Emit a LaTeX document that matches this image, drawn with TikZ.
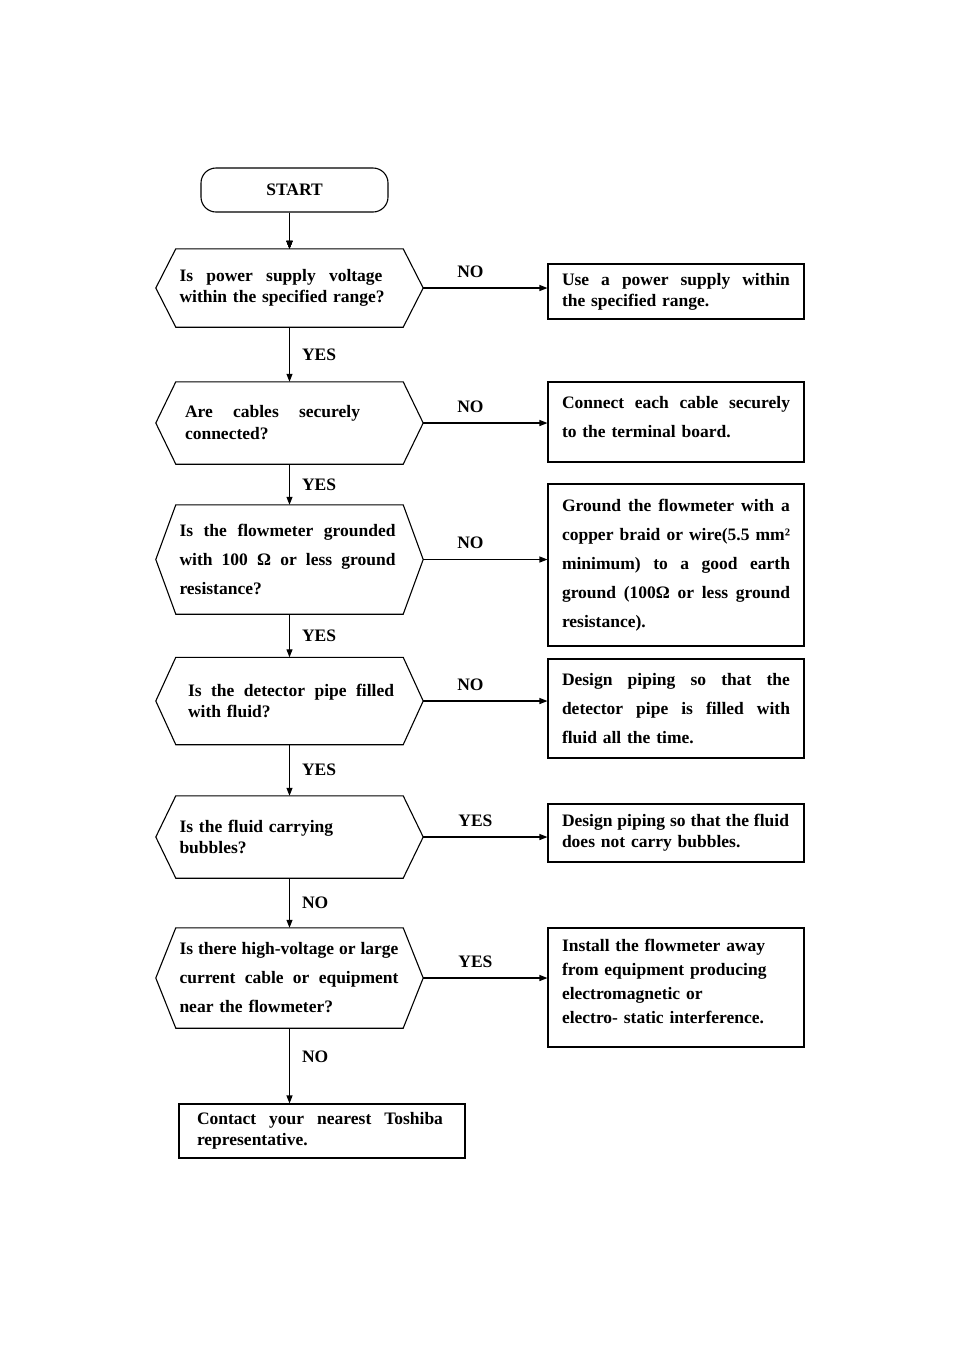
\documentclass[tikz,border=0pt]{standalone}
\usepackage{fontspec}
\setmainfont{Liberation Serif}
\usetikzlibrary{arrows.meta,positioning,calc}

% one stretched line of justified text
\newcommand\jl[2]{\makebox[#1pt][s]{\spaceskip=.25em plus 1fil\xspaceskip=.25em plus 1fil\relax #2}}
% six-sided outline round a decision node
\newcommand\hexout[1]{\draw[line width=1.1pt] (#1.north west) -- ([xshift=-20pt]#1.west) coordinate (#1l)
  -- (#1.south west) -- (#1.south east) -- ([xshift=20pt]#1.east) coordinate (#1r) -- (#1.north east) -- cycle;}

\begin{document}
\begin{tikzpicture}[x=1pt,y=-1pt,
  every node/.style={font=\bfseries\fontsize{17.5}{21}\selectfont},
  wide/.style={font=\bfseries\fontsize{17.5}{29}\selectfont},
  mid/.style={font=\bfseries\fontsize{17.5}{24}\selectfont},
  dec/.style={align=left,text width=220pt,inner xsep=3.5pt,inner ysep=0pt,minimum width=227pt},
  res/.style={draw,line width=1.1pt,align=left,text width=228pt,inner xsep=14pt,inner ysep=0pt,minimum width=256pt},
  lbl/.style={inner sep=2pt},
  ar/.style={-{Triangle[length=8pt,width=6pt]},line width=1.1pt}]
\useasboundingbox (0,0) rectangle (954,1350);
\node[draw,line width=1.1pt,rounded corners=15pt,minimum width=187pt,minimum height=44pt] (start) at (294.5,190) {START};
\node[res,minimum height=55pt] (b1) at (676,291.5) {\jl{228}{Use a power supply within}\\the specified range.};
\node[res,wide,minimum height=80pt] (b2) at (676,422) {\jl{228}{Connect each cable securely}\\to the terminal board.\\[-19pt]\mbox{}};
\node[res,wide,minimum height=162pt] (b3) at (676,565) {\jl{228}{Ground the flowmeter with a}\\\jl{228}{copper braid or wire(5.5 mm²}\\\jl{228}{minimum) to a good earth}\\\jl{228}{ground (100Ω or less ground}\\resistance).};
\node[res,wide,minimum height=99pt] (b4) at (676,708.5) {\jl{228}{Design piping so that the}\\\jl{228}{detector pipe is filled with}\\fluid all the time.};
\node[res,minimum height=58pt] (b5) at (676,833) {\jl{227}{Design piping so that the fluid}\\does not carry bubbles.};
\node[res,mid,minimum height=119pt] (b6) at (676,987.5) {Install the flowmeter away\\from equipment producing\\electromagnetic or\\electro- static interference.\\[-12pt]\mbox{}};
\node[res,text width=250pt,inner xsep=18pt,minimum width=286pt,minimum height=54pt] (fin) at (322,1131) {\jl{246}{Contact your nearest Toshiba}\\representative.};
\node[dec,minimum height=78pt] (d1) at (289.5,288) {\jl{203}{Is power supply voltage}\\within the specified range?};
\node[dec,minimum height=82pt,font=\bfseries\fontsize{17.5}{22}\selectfont] (d2) at (289.5,423) {\hspace*{5.5pt}\jl{175}{Are cables securely}\\\hspace*{5.5pt}connected?};
\node[dec,wide,minimum height=109pt] (d3) at (289.5,559.5) {\jl{216}{Is the flowmeter grounded}\\\jl{216}{with 100 Ω or less ground}\\resistance?};
\node[dec,minimum height=87pt] (d4) at (289.5,701) {\hspace*{8.5pt}\jl{206}{Is the detector pipe filled}\\\hspace*{8.5pt}with fluid?};
\node[dec,minimum height=82pt] (d5) at (289.5,837) {Is the fluid carrying\\bubbles?};
\node[dec,wide,minimum height=100pt] (d6) at (289.5,978) {\jl{219}{Is there high-voltage or large}\\\jl{219}{current cable or equipment}\\near the flowmeter?};
\foreach \d in {d1,d2,d3,d4,d5,d6} \hexout{\d}
\draw[ar] (d1.north |- start.south) -- (d1.north);
\draw[ar] (d1.south) -- node[lbl,right=10pt]{YES} (d2.north);
\draw[ar] (d2.south) -- node[lbl,right=10pt]{YES} (d3.north);
\draw[ar] (d3.south) -- node[lbl,right=10pt]{YES} (d4.north);
\draw[ar] (d4.south) -- node[lbl,right=10pt]{YES} (d5.north);
\draw[ar] (d5.south) -- node[lbl,right=10pt]{NO} (d6.north);
\draw[ar] (d6.south) -- node[lbl,right=10pt,pos=0.38]{NO} (d6.south |- fin.north);
\draw[ar] (d1r) -- node[lbl,above=8pt,pos=0.38]{NO} (d1r -| b1.west);
\draw[ar] (d2r) -- node[lbl,above=8pt,pos=0.38]{NO} (d2r -| b2.west);
\draw[ar] (d3r) -- node[lbl,above=8pt,pos=0.38]{NO} (d3r -| b3.west);
\draw[ar] (d4r) -- node[lbl,above=8pt,pos=0.38]{NO} (d4r -| b4.west);
\draw[ar] (d5r) -- node[lbl,above=8pt,pos=0.42]{YES} (d5r -| b5.west);
\draw[ar] (d6r) -- node[lbl,above=8pt,pos=0.42]{YES} (d6r -| b6.west);
\end{tikzpicture}
\end{document}
